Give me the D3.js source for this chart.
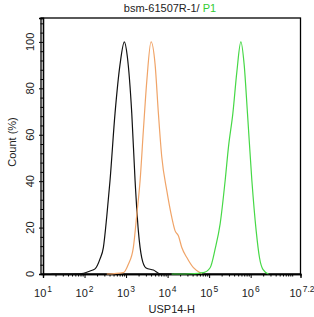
<!DOCTYPE html>
<html>
<head>
<meta charset="utf-8">
<script src="https://cdn.jsdelivr.net/npm/d3@7"></script>
<style>
  body { margin: 0; background: #fff; }
  text { font-family: "Liberation Sans", Arial, sans-serif; fill: #222; }
</style>
</head>
<body>
<script>
// Flow histogram: isotype (black), control (orange), P1 (green)

const w = 314;
const h = 317;

const margin = { top: 18, right: 13.5, bottom: 43, left: 43 };
const width = w - margin.left - margin.right;
const height = h - margin.top - margin.bottom;

// fluorescence intensity (linear units) and count (%)
const blackX = [16, 26, 78, 136, 179, 236, 284, 343, 411, 543, 716, 910, 1074, 1371, 1648, 1977, 2388, 3034, 4550, 6607, 10280, 14000];
const blackY = [0, 0, 0.1, 1.3, 2.2, 6.5, 11.4, 24.8, 40.3, 69.3, 90.3, 100, 93.6, 69.3, 40.3, 18.6, 7.0, 2.6, 1.7, 0.1, 0, 0];

const orangeX = [343, 861, 1135, 1496, 1811, 2178, 2612, 3155, 4000, 5000, 6000, 7244, 9572, 12620, 15170, 18200, 21980, 29040, 41880, 66680];
const orangeY = [0, 0.6, 4.2, 11.4, 25.5, 40.3, 61.9, 83.1, 100, 90.3, 69.3, 50.4, 35.9, 24.4, 18.6, 16.5, 11.4, 7.1, 2.7, 0.1];

const greenX = [12500, 20000, 34830, 72950, 105700, 139600, 184100, 243200, 292400, 373300, 464500, 580700, 696600, 837500, 1069000, 1358000, 1633000, 1972000, 2685000];
const greenY = [0, 0, 0.1, 0.6, 2.7, 10.8, 21.6, 40.3, 54.8, 69.3, 87.0, 100, 90.3, 69.3, 40.3, 18.6, 7.0, 2.0, 0];

const xMajor = [1, 2, 3, 4, 5, 6, 7.2];     // exponents with labels
const yMajor = [0, 20, 40, 60, 80, 100];

const svg = d3.select("body")
  .append("svg")
  .attr("width", w)
  .attr("height", h);

const g = svg.append("g")
  .attr("transform", `translate(${margin.left},${margin.top})`);

const x_scale = d3.scaleLog()
  .domain([10, Math.pow(10, 7.2)])
  .range([0, width]);

const y_scale = d3.scaleLinear()
  .domain([0, 110.3])
  .range([height, 0]);

// frame
g.append("rect")
  .attr("x", -2)
  .attr("y", 0)
  .attr("width", width + 2)
  .attr("height", height)
  .attr("fill", "none")
  .attr("stroke", "#000")
  .attr("stroke-width", 1.3);

// minor ticks
const xMinor = [];
for (let e = 1; e <= 7; e++) {
  for (let m = 1; m <= 9; m++) {
    const v = m * Math.pow(10, e);
    if (v <= Math.pow(10, 7.2) && !(m === 1 && e <= 6)) xMinor.push(v);
  }
}
const yMinor = d3.range(0, 110, 4).filter(v => v % 20 !== 0);

const x_axis = g.append("g")
  .attr("transform", `translate(0,${height})`);
x_axis.call(d3.axisBottom(x_scale).tickValues(xMinor).tickSize(2.5).tickFormat(""));
x_axis.append("g").call(
  d3.axisBottom(x_scale).tickValues(xMajor.filter(e => e < 7).map(e => Math.pow(10, e))).tickSize(4).tickFormat(""));
x_axis.selectAll(".domain").attr("stroke", "#000").attr("stroke-width", 1.3);
x_axis.selectAll("line").attr("stroke", "#000");

const y_axis = g.append("g");
y_axis.call(d3.axisLeft(y_scale).tickValues(yMinor).tickSize(2.5).tickFormat(""));
y_axis.append("g").call(d3.axisLeft(y_scale).tickValues(yMajor).tickSize(4).tickFormat(""));
y_axis.selectAll(".domain").attr("stroke", "#000").attr("stroke-width", 1.3);
y_axis.selectAll("line").attr("stroke", "#000");

// x tick labels 10^n
const xl = g.append("g")
  .selectAll("text")
  .data(xMajor)
  .enter()
  .append("text")
  .attr("x", d => x_scale(Math.pow(10, d)) + (d === 7.2 ? 1.5 : 0))
  .attr("y", height + 22.5)
  .attr("text-anchor", "middle")
  .attr("font-size", "11px");
xl.append("tspan").text("10");
xl.append("tspan")
  .attr("dy", -5)
  .attr("dx", 1)
  .attr("font-size", "8.5px")
  .text(d => d);

// y tick labels, rotated
g.append("g")
  .selectAll("text")
  .data(yMajor)
  .enter()
  .append("text")
  .attr("transform", d => `translate(-9,${y_scale(d)}) rotate(-90)`)
  .attr("text-anchor", "middle")
  .attr("font-size", "11px")
  .text(d => d);

// curves
const line = d3.line()
  .x(d => x_scale(d[0]))
  .y(d => y_scale(d[1]))
  .curve(d3.curveMonotoneX);

const series = [
  { xs: blackX, ys: blackY, color: "#111" },
  { xs: orangeX, ys: orangeY, color: "#f0a468" },
  { xs: greenX, ys: greenY, color: "#46d846" }
];

series.forEach(s => {
  g.append("path")
    .datum(d3.zip(s.xs, s.ys))
    .attr("d", line)
    .attr("fill", "none")
    .attr("stroke", s.color)
    .attr("stroke-width", 1.2);
});

// axis titles
g.append("text")
  .attr("x", width / 2)
  .attr("y", height + 39)
  .attr("text-anchor", "middle")
  .attr("font-size", "11px")
  .text("USP14-H");

g.append("text")
  .attr("transform", "rotate(-90)")
  .attr("x", -height / 2 + 4)
  .attr("y", -27)
  .attr("text-anchor", "middle")
  .attr("font-size", "11px")
  .text("Count (%)");

// title
const title = svg.append("text")
  .attr("x", 170)
  .attr("y", 12)
  .attr("text-anchor", "middle")
  .attr("font-size", "11px");
title.append("tspan").text("bsm-61507R-1/ ");
title.append("tspan").attr("fill", "#33cc33").style("fill", "#33cc33").text("P1");
</script>
</body>
</html>
